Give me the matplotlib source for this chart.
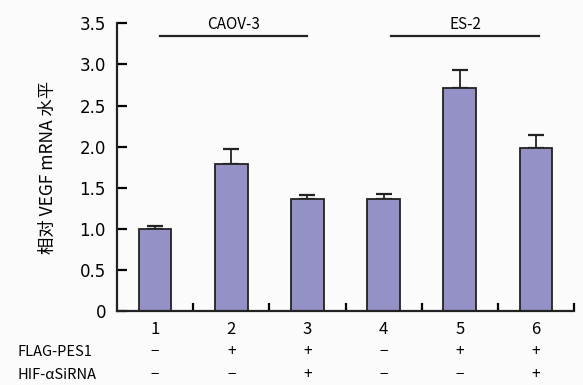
import numpy as np
import matplotlib
matplotlib.use("Agg")
from matplotlib import pyplot as plt
from matplotlib import transforms

plt.rcParams['font.family'] = ['Noto Sans CJK SC', 'DejaVu Sans']

#%% data
lanes = ["1", "2", "3", "4", "5", "6"]
values = [1.00, 1.79, 1.36, 1.36, 2.72, 1.99]
errors = [0.04, 0.18, 0.05, 0.07, 0.21, 0.15]
flag_pes1 = ["−", "+", "+", "−", "+", "+"]
hif_sirna = ["−", "−", "+", "−", "−", "+"]
row_names = ["FLAG-PES1", "HIF-αSiRNA"]
groups = ["CAOV-3", "ES-2"]
group_span = [(1.06, 3.0), (4.1, 6.04)]
yticks = [0, 0.5, 1.0, 1.5, 2.0, 2.5, 3.0, 3.5]
ytick_labels = ["0", "0.5", "1.0", "1.5", "2.0", "2.5", "3.0", "3.5"]

#%% plot
fig = plt.figure(figsize=(5.83, 3.85), dpi=100, facecolor="#fbfbfb")
ax = fig.add_axes([0.2007, 0.191, 0.7839, 0.7485])
ax.set_facecolor("#fbfbfb")

x = np.arange(1, len(values) + 1)
ax.bar(x, values, width=0.43, color="#9491c6", edgecolor="#222222", linewidth=1.3,
       zorder=2)
ax.errorbar(x, values, yerr=[np.zeros(len(errors)), errors], fmt="none",
            ecolor="#222222", elinewidth=1.3, capsize=6, capthick=1.6, zorder=1)

ax.set_xlim(0.5, 6.5)
ax.set_ylim(0, 3.5)
for s in ["top", "right"]:
    ax.spines[s].set_visible(False)
for s in ["left", "bottom"]:
    ax.spines[s].set_linewidth(1.6)
    ax.spines[s].set_color("#222222")

ax.set_yticks(yticks)
ax.set_yticklabels(ytick_labels, fontsize=12, family="DejaVu Sans")
ax.tick_params(axis="y", direction="in", length=7, width=1.6, pad=8)

ax.set_xticks(x)
ax.set_xticklabels(lanes, fontsize=12)
ax.tick_params(axis="x", which="major", length=0, pad=7)
ax.set_xticks(np.arange(1.5, 7.0, 1.0), minor=True)
ax.tick_params(axis="x", which="minor", direction="in", length=6, width=1.6)

ax.set_ylabel("相对 VEGF mRNA 水平", fontsize=12.5, labelpad=16)

# group bars above
for name, (x0, x1) in zip(groups, group_span):
    ax.plot([x0, x1], [3.35, 3.35], color="#222222", lw=1.6, clip_on=False)
    ax.text((x0 + x1) / 2, 3.38, name, ha="center", va="bottom", fontsize=11)

# treatment rows under the axis
trans = transforms.blended_transform_factory(ax.transData, ax.transAxes)
for row_y, name, signs in zip([-0.14, -0.22], row_names, [flag_pes1, hif_sirna]):
    fig.text(0.03, 0.191 + row_y * 0.7485, name, ha="left", va="center", fontsize=10.5)
    for xi, sg in zip(x, signs):
        ax.text(xi, row_y, sg, transform=trans, ha="center", va="center", fontsize=11)

fig.savefig("out.png", dpi=100, facecolor=fig.get_facecolor())
